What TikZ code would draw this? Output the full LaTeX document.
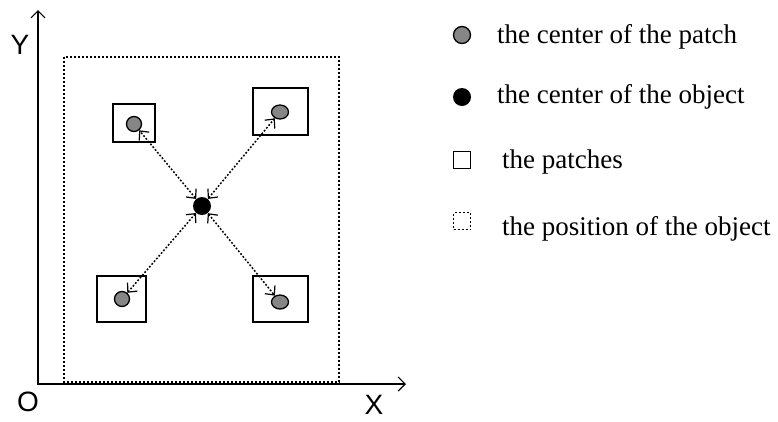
\documentclass[tikz,border=0pt]{standalone}
\usepackage{fontspec}
\setmainfont{Liberation Serif}
\newfontfamily\axisfont{Liberation Sans}
\usetikzlibrary{arrows.meta,shapes.geometric}
\tikzset{
  barb/.tip={Straight Barb[length=7pt,width=13pt,line width=1.2pt]},
  axis/.style={line width=1.2pt,{Straight Barb[length=7pt,width=14pt]}-{Straight Barb[length=7pt,width=14pt]}},
  axlabel/.style={font=\axisfont\fontsize{28}{30}\selectfont, inner sep=0pt},
  patchbox/.style={draw, line width=1.3pt, inner sep=0pt},
  pdot/.style={circle, draw, line width=1.3pt, fill=gray!95!white, minimum size=15pt, inner sep=0pt},
  odot/.style={circle, fill=black, minimum size=18pt, inner sep=0pt},
  posbox/.style={draw, line width=1.3pt, dash pattern=on 2pt off 2pt},
  conn/.style={line width=1.5pt, dash pattern=on 1.8pt off 1.8pt, barb-barb},
  legtext/.style={anchor=base west, inner sep=0pt, font=\fontsize{27}{30}\selectfont},
}
\begin{document}
\begin{tikzpicture}[x=1pt,y=-1pt]
\useasboundingbox (0,0) rectangle (778,421);
% axes
\coordinate (ytop) at (38,10);
\coordinate (orig) at (38,384);
\coordinate (xend) at (406,384);
\draw[axis] (ytop) -- (orig) -- (xend);
\node[axlabel] (ylab) at (20,45) {Y};
\node[axlabel] (olab) at (28,402) {O};
\node[axlabel] (xlab) at (374,405) {X};
% object position
\draw[posbox] (64,57) rectangle (339,382);
% patches
\draw[patchbox] (113,104) rectangle (155,142);
\draw[patchbox] (253,88) rectangle (308,135);
\draw[patchbox] (97,276) rectangle (146,322);
\draw[patchbox] (253,276) rectangle (308,322);
\node[pdot] (p1) at (134,124) {};
\node[pdot, ellipse, minimum width=17pt, minimum height=14pt] (p2) at (280,112) {};
\node[pdot] (p3) at (122,299) {};
\node[pdot, ellipse, minimum width=17pt, minimum height=14pt] (p4) at (280,302) {};
\node[odot] (obj) at (202,206) {};
\draw[conn] (obj) -- (p1);
\draw[conn] (obj) -- (p2);
\draw[conn] (obj) -- (p3);
\draw[conn] (obj) -- (p4);
% legend
\node[pdot, minimum size=17pt] (l1) at (462,35) {};
\node[legtext] (t1) at (497,43) {the center of the patch};
\node[odot] (l2) at (462,97) {};
\node[legtext] (t2) at (497,103) {the center of the object};
\node[patchbox, minimum size=17pt] (l3) at (462,160) {};
\node[legtext] (t3) at (502,168) {the patches};
\node[posbox, minimum size=17pt, inner sep=0pt] (l4) at (462,221) {};
\node[legtext] (t4) at (502,235) {the position of the object};
\end{tikzpicture}
\end{document}
